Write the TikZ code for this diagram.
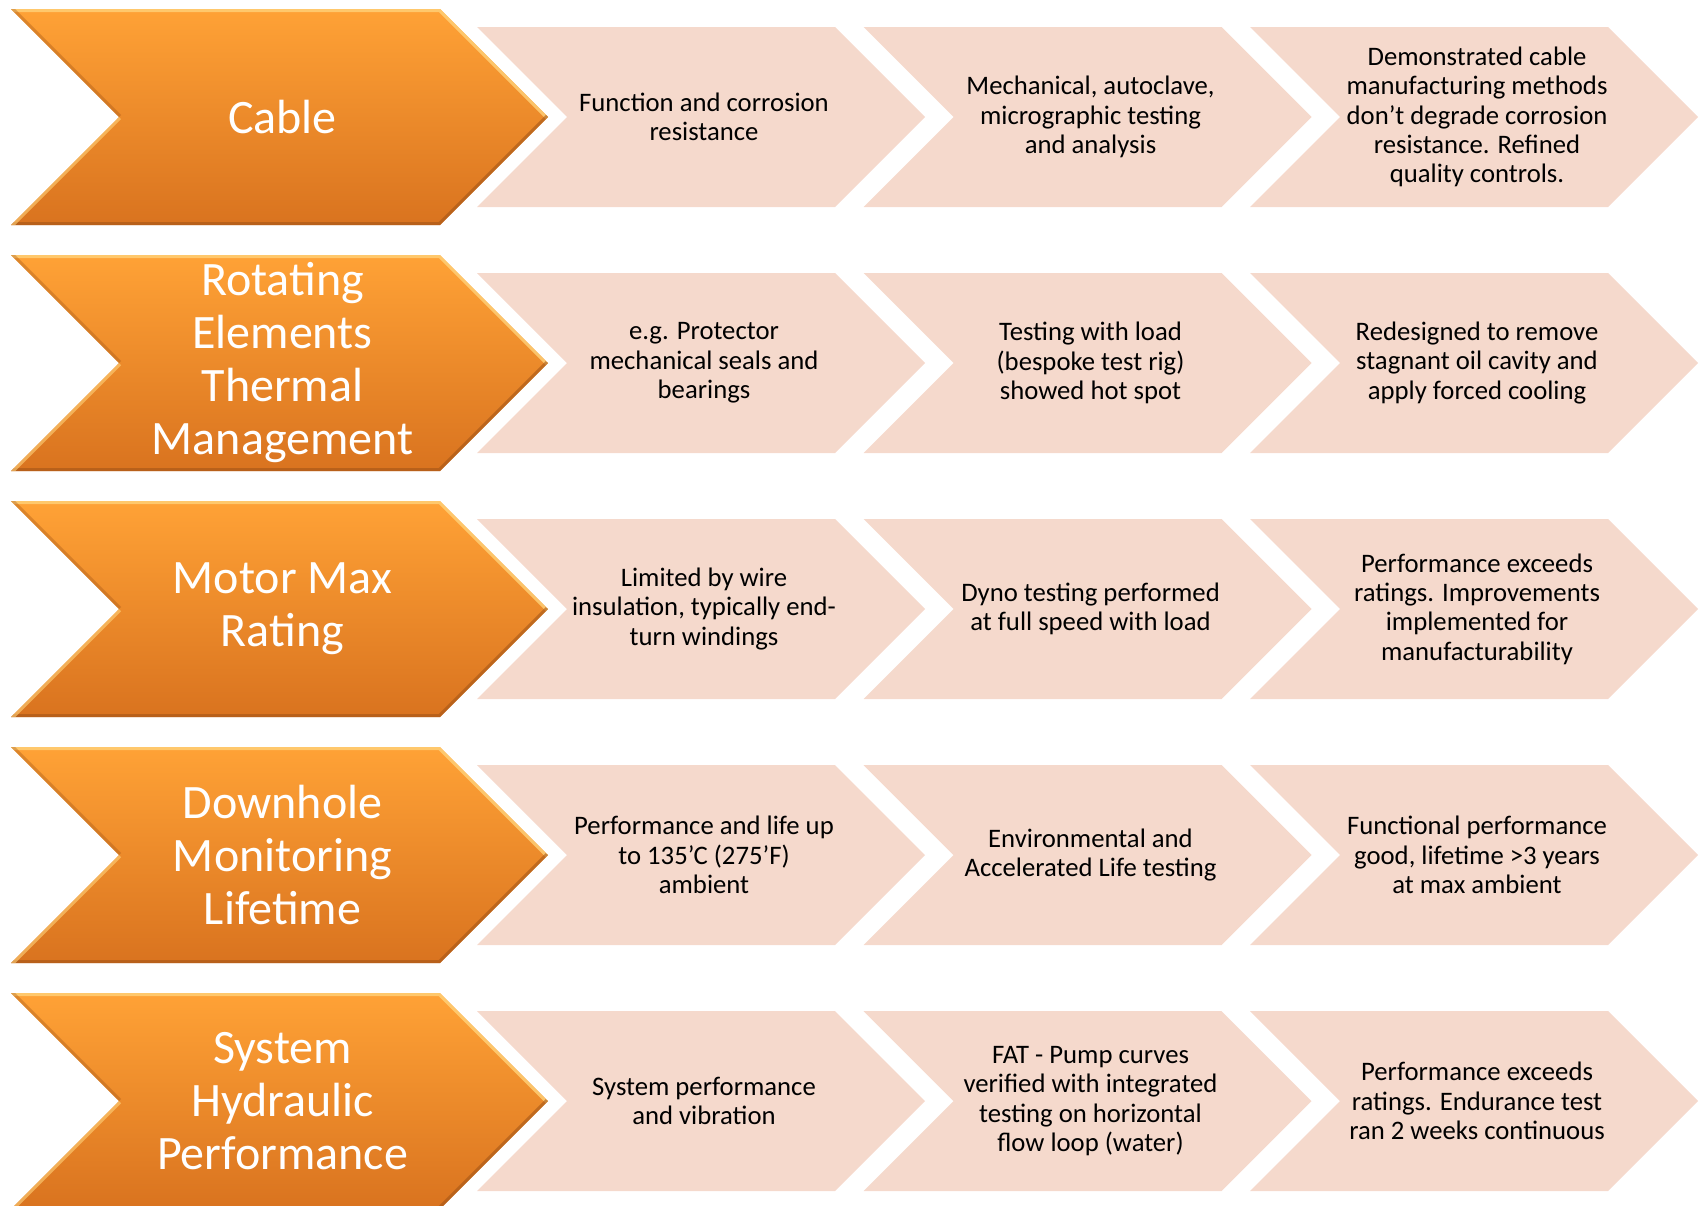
\documentclass[tikz,border=0pt]{standalone}
\usepackage{fontspec}
\setmainfont{Carlito}
\usepackage{tikz}
\usetikzlibrary{shadows,shadows.blur}
\definecolor{orangetop}{HTML}{FFA236}
\definecolor{orangemid}{HTML}{F48E2C}
\definecolor{orangebot}{HTML}{D9731F}
\definecolor{peach}{HTML}{F5D9CC}
\definecolor{bevellight}{HTML}{FFD27A}
\definecolor{beveldark}{HTML}{9E5216}
\tikzset{
  headchev/.style={
    top color=orangetop,middle color=orangemid,bottom color=orangebot,
    blur shadow={shadow xshift=2bp,shadow yshift=-4bp,
      shadow blur radius=4bp,shadow opacity=40}
  },
  stagechev/.style={
    fill=peach,
    blur shadow={shadow xshift=2bp,shadow yshift=-4bp,
      shadow blur radius=4bp,shadow opacity=40}
  },
  headtext/.style={text=white,align=center,xshift=3bp,
    font=\fontsize{48bp}{53bp}\selectfont},
  stagetext/.style={text=black,align=center,xshift=3bp,
    font=\fontsize{26.7bp}{29.3bp}\selectfont},
  % plain chevron: width #1, height #2, point at 45 degrees
  pics/chevron/.style n args={2}{code={
    \path[pic actions] (-#1/2,-#2/2) -- (#1/2-#2/2,-#2/2) -- (#1/2,0)
      -- (#1/2-#2/2,#2/2) -- (-#1/2,#2/2) -- (-#1/2+#2/2,0) -- cycle;
  }},
  % same outline with a bevelled rim
  pics/headchevron/.style n args={2}{code={
    \path[pic actions] (-#1/2,-#2/2) -- (#1/2-#2/2,-#2/2) -- (#1/2,0)
      -- (#1/2-#2/2,#2/2) -- (-#1/2,#2/2) -- (-#1/2+#2/2,0) -- cycle;
    \begin{scope}
      \clip (-#1/2,-#2/2) -- (#1/2-#2/2,-#2/2) -- (#1/2,0)
        -- (#1/2-#2/2,#2/2) -- (-#1/2,#2/2) -- (-#1/2+#2/2,0) -- cycle;
      \draw[line width=6bp,bevellight,opacity=.8]
        (-#1/2,-#2/2) -- (#1/2-#2/2,-#2/2) -- (#1/2,0);
      \draw[line width=6bp,beveldark,opacity=.55]
        (#1/2,0) -- (#1/2-#2/2,#2/2) -- (-#1/2,#2/2);
      \draw[line width=6bp,beveldark,opacity=.35]
        (-#1/2,-#2/2) -- (-#1/2+#2/2,0);
      \draw[line width=6bp,bevellight,opacity=.6]
        (-#1/2+#2/2,0) -- (-#1/2,#2/2);
    \end{scope}
  }}
}

\begin{document}
\begin{tikzpicture}[x=1bp,y=-1bp]
\useasboundingbox (0,0) rectangle (1701,1205);

% Cable
\pic[headchev] at (279.5,117) {headchevron={537}{216}};
\node[headtext] (cable) at (279.5,117) {Cable};
\pic[stagechev] at (701,117) {chevron={448}{180}};
\node[stagetext] (cable-need) at (701,117)
  {Function and corrosion\\resistance};
\pic[stagechev] at (1087.5,117) {chevron={448}{180}};
\node[stagetext] (cable-test) at (1087.5,117)
  {Mechanical, autoclave,\\micrographic testing\\and analysis};
\pic[stagechev] at (1474,117) {chevron={448}{180}};
\node[stagetext] (cable-result) at (1474,117)
  {Demonstrated cable\\manufacturing methods\\don’t degrade corrosion\\resistance. Refined\\quality controls.};

% Rotating elements
\pic[headchev] at (279.5,363) {headchevron={537}{216}};
\node[headtext] (rotating) at (279.5,363)
  {Rotating\\Elements\\Thermal\\Management};
\pic[stagechev] at (701,363) {chevron={448}{180}};
\node[stagetext] (rotating-need) at (701,363)
  {e.g. Protector\\mechanical seals and\\bearings};
\pic[stagechev] at (1087.5,363) {chevron={448}{180}};
\node[stagetext] (rotating-test) at (1087.5,363)
  {Testing with load\\(bespoke test rig)\\showed hot spot};
\pic[stagechev] at (1474,363) {chevron={448}{180}};
\node[stagetext] (rotating-result) at (1474,363)
  {Redesigned to remove\\stagnant oil cavity and\\apply forced cooling};

% Motor
\pic[headchev] at (279.5,609) {headchevron={537}{216}};
\node[headtext] (motor) at (279.5,609) {Motor Max\\Rating};
\pic[stagechev] at (701,609) {chevron={448}{180}};
\node[stagetext] (motor-need) at (701,609)
  {Limited by wire\\insulation, typically end-\\turn windings};
\pic[stagechev] at (1087.5,609) {chevron={448}{180}};
\node[stagetext] (motor-test) at (1087.5,609)
  {Dyno testing performed\\at full speed with load};
\pic[stagechev] at (1474,609) {chevron={448}{180}};
\node[stagetext] (motor-result) at (1474,609)
  {Performance exceeds\\ratings. Improvements\\implemented for\\manufacturability};

% Downhole monitoring
\pic[headchev] at (279.5,855) {headchevron={537}{216}};
\node[headtext] (downhole) at (279.5,855)
  {Downhole\\Monitoring\\Lifetime};
\pic[stagechev] at (701,855) {chevron={448}{180}};
\node[stagetext] (downhole-need) at (701,855)
  {Performance and life up\\to 135’C (275’F)\\ambient};
\pic[stagechev] at (1087.5,855) {chevron={448}{180}};
\node[stagetext] (downhole-test) at (1087.5,855)
  {Environmental and\\Accelerated Life testing};
\pic[stagechev] at (1474,855) {chevron={448}{180}};
\node[stagetext] (downhole-result) at (1474,855)
  {Functional performance\\good, lifetime >3 years\\at max ambient};

% Hydraulics
\pic[headchev] at (279.5,1101) {headchevron={537}{216}};
\node[headtext] (hydraulic) at (279.5,1101)
  {System\\Hydraulic\\Performance};
\pic[stagechev] at (701,1101) {chevron={448}{180}};
\node[stagetext] (hydraulic-need) at (701,1101)
  {System performance\\and vibration};
\pic[stagechev] at (1087.5,1101) {chevron={448}{180}};
\node[stagetext] (hydraulic-test) at (1087.5,1101)
  {FAT - Pump curves\\verified with integrated\\testing on horizontal\\flow loop (water)};
\pic[stagechev] at (1474,1101) {chevron={448}{180}};
\node[stagetext] (hydraulic-result) at (1474,1101)
  {Performance exceeds\\ratings. Endurance test\\ran 2 weeks continuous};
\end{tikzpicture}
\end{document}
